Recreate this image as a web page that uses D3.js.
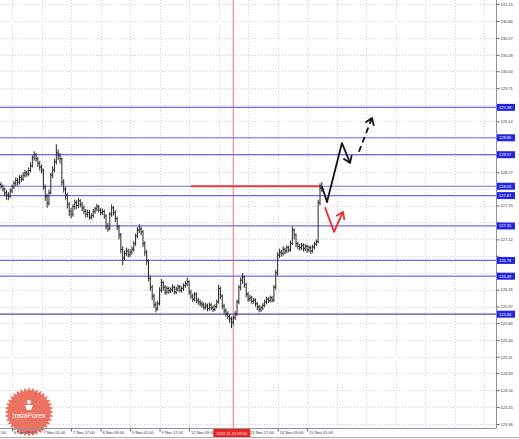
<!DOCTYPE html>
<html>
<head>
<meta charset="utf-8">
<script src="https://cdn.jsdelivr.net/npm/d3@7"></script>
<style>
  body { margin: 0; background: #fff; }
  svg { display: block; }
  text { font-family: "Liberation Sans", Arial, sans-serif; }
</style>
</head>
<body>
<svg id="chart" width="519" height="439"></svg>
<script>
// hourly bars, 6 Nov 03:00 .. 15 Nov 09:00 (open = previous close)
let firstOpen = 128.06;
let barClose = [
  128.03,127.98,127.92,127.88,127.86,127.95,128.02,128.08,128.13,128.10,
  128.18,128.15,128.22,128.26,128.24,128.30,128.38,128.52,128.57,128.50,
  128.42,128.36,128.31,128.02,127.85,127.74,127.92,128.22,128.31,128.45,
  128.60,128.55,128.50,128.10,127.98,127.88,127.72,127.60,127.55,127.68,
  127.75,127.70,127.78,127.72,127.66,127.60,127.55,127.58,127.50,127.53,
  127.60,127.64,127.68,127.62,127.58,127.60,127.52,127.35,127.30,127.55,
  127.66,127.58,127.48,127.33,127.20,126.95,126.80,126.88,126.92,126.86,
  126.90,126.95,127.05,127.18,127.28,127.30,127.25,127.05,126.90,126.75,
  126.45,126.30,126.15,126.00,125.93,126.02,126.25,126.38,126.30,126.22,
  126.28,126.24,126.26,126.30,126.22,126.27,126.31,126.25,126.28,126.33,
  126.36,126.40,126.22,126.15,126.10,126.18,126.08,126.05,126.02,126.00,
  125.96,125.98,125.94,126.00,125.95,125.92,125.97,126.05,126.28,126.15,
  125.98,125.90,125.85,125.80,125.76,125.70,125.78,125.84,126.05,126.30,
  126.42,126.48,126.35,126.18,126.10,126.12,126.06,126.08,126.02,125.96,
  125.92,125.95,125.99,126.05,126.10,126.07,126.12,126.08,126.30,126.55,
  126.85,126.90,126.88,126.95,126.92,126.98,126.94,127.05,127.28,127.20,
  127.05,127.00,126.98,127.02,126.96,127.00,126.94,126.98,126.92,126.99,
  127.04,127.08,127.75,128.00,127.98
];
let barHigh = [
  128.10,128.06,128.01,127.96,127.93,127.99,128.06,128.12,128.18,128.17,
  128.22,128.23,128.27,128.31,128.30,128.35,128.44,128.56,128.63,128.60,
  128.53,128.46,128.40,128.33,128.06,127.90,127.97,128.26,128.37,128.50,
  128.75,128.66,128.60,128.52,128.15,128.02,127.92,127.76,127.66,127.72,
  127.80,127.79,127.83,127.81,127.76,127.70,127.64,127.63,127.62,127.57,
  127.64,127.68,127.73,127.71,127.66,127.65,127.63,127.55,127.40,127.59,
  127.72,127.69,127.62,127.51,127.37,127.23,127.00,126.93,126.98,126.96,
  126.95,127.00,127.09,127.22,127.33,127.38,127.34,127.28,127.09,126.94,
  126.78,126.50,126.34,126.19,126.05,126.07,126.30,126.44,126.41,126.34,
  126.32,126.31,126.30,126.35,126.33,126.31,126.35,126.34,126.32,126.37,
  126.41,126.47,126.42,126.26,126.19,126.22,126.21,126.12,126.09,126.06,
  126.04,126.03,126.02,126.04,126.03,125.99,126.01,126.09,126.34,126.31,
  126.18,126.02,125.94,125.89,125.84,125.80,125.82,125.89,126.09,126.34,
  126.47,126.54,126.50,126.38,126.22,126.17,126.15,126.12,126.11,126.05,
  126.00,125.99,126.03,126.09,126.14,126.13,126.16,126.15,126.34,126.60,
  126.90,126.96,126.94,127.00,126.98,127.02,127.01,127.10,127.34,127.31,
  127.22,127.08,127.04,127.06,127.05,127.04,127.03,127.02,127.01,127.03,
  127.08,127.12,127.80,128.08,128.10
];
let barLow = [
  127.99,127.94,127.86,127.80,127.79,127.83,127.91,127.98,128.03,128.04,
  128.06,128.10,128.12,128.18,128.19,128.21,128.27,128.35,128.47,128.45,
  128.36,128.30,128.25,127.97,127.78,127.66,127.70,127.89,128.17,128.27,
  128.40,128.48,128.42,128.04,127.92,127.80,127.65,127.52,127.48,127.51,
  127.63,127.64,127.66,127.67,127.60,127.55,127.49,127.50,127.46,127.46,
  127.49,127.56,127.60,127.58,127.53,127.54,127.47,127.29,127.25,127.28,
  127.51,127.53,127.42,127.28,127.12,126.88,126.68,126.76,126.84,126.81,
  126.82,126.86,126.91,127.01,127.14,127.23,127.19,126.99,126.84,126.68,
  126.40,126.24,126.08,125.95,125.87,125.90,125.99,126.21,126.24,126.17,
  126.18,126.19,126.20,126.22,126.18,126.18,126.23,126.21,126.21,126.24,
  126.29,126.32,126.17,126.10,126.05,126.06,126.03,126.00,125.97,125.95,
  125.91,125.92,125.89,125.90,125.91,125.88,125.89,125.94,126.02,126.10,
  125.93,125.85,125.80,125.75,125.69,125.60,125.65,125.74,125.81,126.01,
  126.25,126.36,126.29,126.13,126.05,126.06,126.01,126.02,125.97,125.91,
  125.87,125.88,125.91,125.96,126.01,126.03,126.04,126.04,126.05,126.26,
  126.50,126.80,126.82,126.84,126.87,126.88,126.90,126.91,127.02,127.12,
  126.99,126.95,126.93,126.94,126.91,126.92,126.89,126.90,126.87,126.89,
  126.95,127.00,127.05,127.70,127.93
];

// axis ticks
let xTickBars = [-10, 6, 22, 38, 54, 70, 86, 102, 118, 134, 150, 166];
let xTickLabels = ["5 Nov 17:00", "6 Nov 09:00", "7 Nov 01:00", "7 Nov 17:00", "8 Nov 09:00",
  "9 Nov 01:00", "9 Nov 17:00", "12 Nov 09:00", "13 Nov 01:00", "13 Nov 17:00",
  "14 Nov 09:00", "15 Nov 01:00"];
let xGridBars = [182, 198, 214, 230, 246, 262];
let yTicks = [131.15, 130.86, 130.57, 130.28, 130.00, 129.71, 129.42, 129.14, 128.85, 128.56,
  128.27, 127.99, 127.70, 127.41, 127.12, 126.84, 126.55, 126.26, 125.97, 125.69,
  125.40, 125.11, 124.83, 124.54, 124.25, 123.96];

// horizontal levels, cursor, forecast arrows
let levelPrices = [129.38, 128.86, 128.57, 128.03, 127.87, 127.35, 126.76, 126.49, 125.84];
let redLevel = 128.03, redFromBar = 103, redToBar = 174;
let cursorBar = 126, cursorLabel = "2012.11.13 09:00";
let solidArrow = [[174, 128.03], [176.8, 127.76], [184.9, 128.77], [189.3, 128.43]];
let dashedArrow = [[194.1, 128.62], [201.2, 129.20]];
let redArrow = [[175.7, 127.67], [180.6, 127.25], [185.5, 127.59]];

let W = 519, H = 439;
let plot = {r: 496, b: 428};

let svg = d3.select('#chart');
let xScale = d3.scaleLinear().domain([0, 269]).range([1, 497]);
let yScale = d3.scaleLinear().domain([123.96, 131.15]).range([424, 4]);

svg.append('rect').attr('width', W).attr('height', H).attr('fill', '#fff');

// grid
let grid = svg.append('g').attr('stroke', '#c4c4c4').attr('stroke-dasharray', '1,2').attr('stroke-width', 0.8);
grid.selectAll('line.h').data(yTicks).enter().append('line')
    .attr('x1', 0).attr('x2', plot.r)
    .attr('y1', d => Math.round(yScale(d)) + 0.5).attr('y2', d => Math.round(yScale(d)) + 0.5);
grid.selectAll('line.v').data(xTickBars.concat(xGridBars).filter(d => d >= 0)).enter().append('line')
    .attr('x1', d => Math.round(xScale(d)) + 0.5).attr('x2', d => Math.round(xScale(d)) + 0.5)
    .attr('y1', 0).attr('y2', plot.b);

// watermark
let logo = svg.append('g').attr('transform', 'translate(29,412)').attr('opacity', 0.9);
let starPts = d3.range(72).map(i => [i / 72 * 2 * Math.PI, i % 2 ? 21 : 24.5]);
logo.append('path')
    .attr('d', d3.lineRadial().angle(d => d[0]).radius(d => d[1]).curve(d3.curveLinearClosed)(starPts))
    .attr('fill', '#ea6452');
logo.append('circle').attr('cx', 0).attr('cy', -10).attr('r', 2).attr('fill', '#fff');
logo.append('path').attr('d', 'M-4,-7 L4,-7 L2,-2 L-2,-2 Z').attr('fill', '#fff');
logo.append('text').text('InstaForex')
    .attr('x', 0).attr('y', 6).attr('text-anchor', 'middle')
    .style('font-size', '7px').attr('fill', '#fff');

// cursor line
svg.append('line')
    .attr('x1', xScale(cursorBar)).attr('x2', xScale(cursorBar))
    .attr('y1', 0).attr('y2', plot.b)
    .attr('stroke', '#f39a9a').attr('stroke-width', 1.4);

// levels
svg.append('g').selectAll('line').data(levelPrices).enter().append('line')
    .attr('x1', 0).attr('x2', plot.r)
    .attr('y1', d => yScale(d)).attr('y2', d => yScale(d))
    .attr('stroke', (d, i) => i === levelPrices.length - 1 ? '#4a4ab8' : '#6c6cf2')
    .attr('stroke-width', 1.2);

svg.append('line')
    .attr('x1', xScale(redFromBar)).attr('x2', xScale(redToBar))
    .attr('y1', yScale(redLevel)).attr('y2', yScale(redLevel))
    .attr('stroke', '#e83a3a').attr('stroke-width', 2);

// bars
let bars = svg.append('g').attr('stroke', '#262626').attr('stroke-width', 1);
barClose.forEach((c, i) => {
    let x = xScale(i);
    let o = i === 0 ? firstOpen : barClose[i - 1];
    bars.append('line').attr('x1', x).attr('x2', x)
        .attr('y1', yScale(barHigh[i])).attr('y2', yScale(barLow[i]));
    bars.append('line').attr('x1', x - 1).attr('x2', x)
        .attr('y1', yScale(o)).attr('y2', yScale(o));
    bars.append('line').attr('x1', x).attr('x2', x + 1)
        .attr('y1', yScale(c)).attr('y2', yScale(c));
});

// forecast arrows
function drawArrow(pts, color, dash){
    let px = pts.map(d => [xScale(d[0]), yScale(d[1])]);
    let g = svg.append('g').attr('fill', 'none').attr('stroke', color)
        .attr('stroke-width', 1.8).attr('stroke-linejoin', 'round');
    g.append('path').attr('d', d3.line()(px)).attr('stroke-dasharray', dash || null);
    let a = px[px.length - 2], b = px[px.length - 1];
    let ang = Math.atan2(b[1] - a[1], b[0] - a[0]);
    let len = 8;
    let head = [
        [b[0] - len * Math.cos(ang - 0.6), b[1] - len * Math.sin(ang - 0.6)],
        b,
        [b[0] - len * Math.cos(ang + 0.6), b[1] - len * Math.sin(ang + 0.6)]
    ];
    g.append('path').attr('d', d3.line()(head));
}
drawArrow(solidArrow, '#111');
drawArrow(dashedArrow, '#111', '6,4');
drawArrow(redArrow, '#ee2b2b');

// frame
svg.append('line').attr('x1', plot.r + 0.5).attr('x2', plot.r + 0.5).attr('y1', 0).attr('y2', plot.b)
    .attr('stroke', '#8a94a8');
svg.append('line').attr('x1', 0).attr('x2', plot.r + 0.5).attr('y1', plot.b + 0.5).attr('y2', plot.b + 0.5)
    .attr('stroke', '#8a94a8');
svg.append('line').attr('x1', 0).attr('x2', W).attr('y1', 437.5).attr('y2', 437.5)
    .attr('stroke', '#b0b0b0');

// price axis (labels under a level box are covered by it)
let covered = d => levelPrices.some(p => Math.abs(yScale(p) - yScale(d)) < 5);
let yAxis = d3.axisRight(yScale).tickValues(yTicks)
    .tickFormat(d => covered(d) ? '' : d3.format('.2f')(d))
    .tickSize(3).tickPadding(1);
let yAxisG = svg.append('g').attr('transform', `translate(${plot.r + 0.5},0)`).call(yAxis);
yAxisG.select('.domain').remove();
yAxisG.selectAll('line').attr('stroke', '#666');
yAxisG.selectAll('text').style('font-size', '4px').attr('fill', '#333');

// time axis
let cx = xScale(cursorBar);
let boxL = cx - 20, boxR = cx + 17;
let xAxis = d3.axisBottom(xScale).tickValues(xTickBars)
    .tickFormat((d, i) => (xScale(d) > boxL - 4 && xScale(d) < boxR - 4) ? '' : xTickLabels[i])
    .tickSize(3).tickPadding(0);
let xAxisG = svg.append('g').attr('transform', `translate(0,${plot.b + 0.5})`).call(xAxis);
xAxisG.select('.domain').remove();
xAxisG.selectAll('line').attr('stroke', '#666');
xAxisG.selectAll('text').style('font-size', '4px').attr('fill', '#333')
    .attr('text-anchor', 'start').attr('dx', 1.5).attr('y', 3);

// level price boxes
let boxes = svg.append('g').selectAll('g').data(levelPrices).enter().append('g')
    .attr('transform', d => `translate(${plot.r + 1},${yScale(d)})`);
boxes.append('rect').attr('x', 0).attr('y', -3.5).attr('width', 18).attr('height', 7)
    .attr('fill', '#2424e6');
boxes.append('text').text(d => d3.format('.2f')(d))
    .attr('x', 2).attr('y', 1.5).style('font-size', '4px').attr('fill', '#fff');

// cursor time box
svg.append('rect').attr('x', boxL).attr('y', plot.b + 1).attr('width', boxR - boxL).attr('height', 8)
    .attr('fill', '#ee2020');
svg.append('text').text(cursorLabel)
    .attr('x', (boxL + boxR) / 2).attr('y', plot.b + 6.5).attr('text-anchor', 'middle')
    .style('font-size', '4px').attr('fill', '#fff');
</script>
</body>
</html>
